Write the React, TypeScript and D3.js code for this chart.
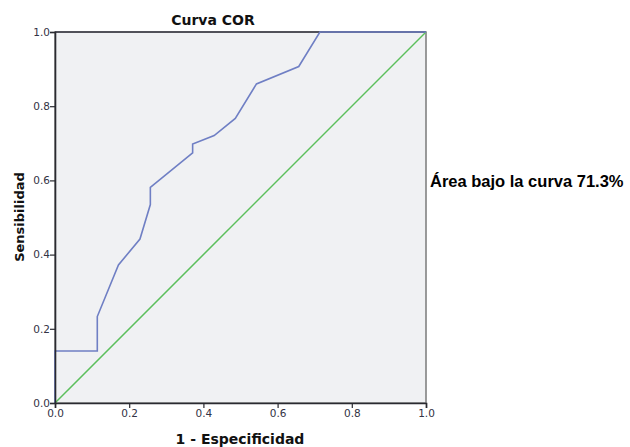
import React, { useRef, useEffect } from 'react';
import * as d3 from 'd3';

// ROC curve points (1 - especificidad, sensibilidad)
const fpr = [0, 0, 0.114, 0.114, 0.171, 0.229, 0.257, 0.257, 0.371, 0.371, 0.429, 0.486, 0.543, 0.657, 0.714, 1.0];
const tpr = [0, 0.140, 0.140, 0.233, 0.372, 0.442, 0.535, 0.581, 0.674, 0.698, 0.721, 0.767, 0.860, 0.907, 1.0, 1.0];
const refLine = [0, 1];
const ticks = [0, 0.2, 0.4, 0.6, 0.8, 1.0];
const title = 'Curva COR';
const xTitle = '1 - Especificidad';
const yTitle = 'Sensibilidad';
const aucLabel = 'Área bajo la curva 71.3%';

export default function App() {
  const svgRef = useRef<SVGSVGElement>(null);

  useEffect(() => {
    const svg = d3.select(svgRef.current);
    svg.selectAll('*').remove();

    const width = 630, height = 447;
    const margin = { top: 32, left: 55 };
    const plotW = 371, plotH = 371;
    const font = 'DejaVu Sans, Verdana, sans-serif';

    svg.attr('width', width).attr('height', height);

    const x = d3.scaleLinear().domain([0, 1]).range([0, plotW]);
    const y = d3.scaleLinear().domain([0, 1]).range([plotH, 0]);

    const g = svg.append('g').attr('transform', `translate(${margin.left},${margin.top})`);

    // plot background + frame
    g.append('rect')
      .attr('width', plotW).attr('height', plotH)
      .attr('fill', '#f0f1f3')
      .attr('stroke', '#7a7a7a').attr('stroke-width', 1.5);
    g.append('line')
      .attr('x1', 0).attr('x2', plotW).attr('y1', 0).attr('y2', 0)
      .attr('stroke', '#3a3a44').attr('stroke-width', 1.5);

    // diagonal reference
    g.append('line')
      .attr('x1', x(refLine[0])).attr('y1', y(refLine[0]))
      .attr('x2', x(refLine[1])).attr('y2', y(refLine[1]))
      .attr('stroke', '#5cbf5c').attr('stroke-width', 1.5);

    // ROC curve
    const line = d3.line<number>()
      .x((d, i) => x(fpr[i]))
      .y(d => y(d));
    g.append('path')
      .datum(tpr)
      .attr('d', line)
      .attr('fill', 'none')
      .attr('stroke', '#6f7fc4')
      .attr('stroke-width', 1.6);

    // axes
    const xAxis = g.append('g')
      .attr('transform', `translate(0,${plotH})`)
      .call(d3.axisBottom(x).tickValues(ticks).tickFormat(d3.format('.1f')).tickSizeOuter(0).tickSize(5));
    const yAxis = g.append('g')
      .call(d3.axisLeft(y).tickValues(ticks).tickFormat(d3.format('.1f')).tickSizeOuter(0).tickSize(5));

    [xAxis, yAxis].forEach(a => {
      a.select('.domain').attr('stroke', '#2a2a30').attr('stroke-width', 1.6);
      a.selectAll('.tick line').attr('stroke', '#2a2a30').attr('stroke-width', 1.2);
      a.selectAll('.tick text')
        .attr('fill', '#333344')
        .style('font-family', font)
        .style('font-size', '10.5px');
    });
    xAxis.selectAll('.tick text').attr('dy', '0.9em').attr('y', 5);
    yAxis.selectAll('.tick text').attr('x', -5);

    // titles
    svg.append('text')
      .attr('x', 213).attr('y', 25)
      .attr('text-anchor', 'middle')
      .style('font-family', font).style('font-weight', 'bold').style('font-size', '14px')
      .attr('fill', '#111')
      .text(title);

    svg.append('text')
      .attr('x', 240).attr('y', 444)
      .attr('text-anchor', 'middle')
      .style('font-family', font).style('font-weight', 'bold').style('font-size', '14px')
      .attr('fill', '#111')
      .text(xTitle);

    svg.append('text')
      .attr('transform', `translate(24,217) rotate(-90)`)
      .attr('text-anchor', 'middle')
      .style('font-family', font).style('font-weight', 'bold').style('font-size', '13px')
      .attr('fill', '#111')
      .text(yTitle);

    svg.append('text')
      .attr('x', 430).attr('y', 187)
      .style('font-family', 'Liberation Sans, Arial, sans-serif').style('font-weight', 'bold').style('font-size', '16.5px')
      .attr('fill', '#000')
      .text(aucLabel);
  }, []);

  return <svg ref={svgRef} style={{ display: 'block', position: 'absolute', left: 0, top: 0 }} />;
}
